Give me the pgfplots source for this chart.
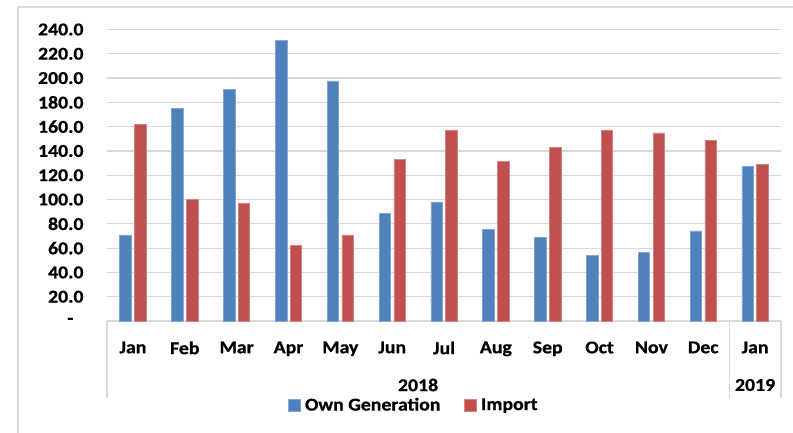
\documentclass[border=0pt]{standalone}
\usepackage{fontspec}
\setmainfont{Carlito}[FakeStretch=1.1, BoldFeatures={FakeBold=0.8}]
\usepackage{pgfplots}
\pgfplotsset{compat=1.18}
\definecolor{ownblue}{HTML}{4F81BD}
\definecolor{impred}{HTML}{C0504D}
\definecolor{gridgray}{HTML}{D9D9D9}
\newcommand{\tfont}{\bfseries\fontsize{18bp}{21bp}\selectfont}
\newcommand{\xfont}{\bfseries\fontsize{18bp}{21bp}\selectfont}
\begin{document}
\begin{tikzpicture}[x=1bp,y=1bp]
\useasboundingbox (0,0) rectangle (793,433);
\draw[gridgray, line width=1.2bp] (18,0) -- (18,426) -- (800,426);
\begin{axis}[
  at={(107bp,112bp)}, anchor=south west,
  width=674bp, height=291.5bp, scale only axis,
  ybar=3.3bp, bar width=11.5bp,
  xmin=-0.5, xmax=12.5, ymin=0, ymax=240,
  xtick={0,...,12},
  xticklabels={Jan,Feb,Mar,Apr,May,Jun,Jul,Aug,Sep,Oct,Nov,Dec,Jan},
  ytick={0,20,...,240},
  yticklabels={{-\kern10bp\relax},20.0,40.0,60.0,80.0,100.0,120.0,140.0,160.0,180.0,200.0,220.0,240.0},
  major tick length=0pt,
  ymajorgrids, grid style={draw=gridgray, line width=1.2bp},
  axis x line*=bottom, axis y line*=left,
  x axis line style={draw=gridgray, line width=1.2bp, -},
  y axis line style={draw=none},
  yticklabel style={font=\tfont, anchor=east, xshift=-20bp},
  xticklabel style={font=\xfont, anchor=north, yshift=-17bp},
  legend style={at={(0.4555,-0.288)}, anchor=center, draw=none, fill=none,
    legend columns=2, font=\xfont,
    /tikz/every even column/.append style={column sep=22bp}},
  legend image code/.code={\fill[#1] (0bp,-6bp) rectangle (12bp,6bp);},
  clip=false,
]
\addplot[fill=ownblue, draw=ownblue!70!white, line width=0.6bp] coordinates {
(0,70.8) (1,175.1) (2,190.7) (3,231.3) (4,197.6) (5,88.7) (6,98.0) (7,75.5) (8,68.6) (9,54.3) (10,56.8) (11,74.1) (12,127.0)};
\addplot[fill=impred, draw=impred!70!white, line width=0.6bp] coordinates {
(0,162.0) (1,100.4) (2,97.1) (3,62.0) (4,70.8) (5,133.0) (6,157.3) (7,131.5) (8,142.7) (9,157.3) (10,154.8) (11,149.0) (12,129.0)};
\legend{\hspace{2bp}Own Generation, \hspace{2bp}Import}
\draw[gridgray, line width=1.2bp] (axis cs:-0.5,0) -- ([yshift=-77bp]axis cs:-0.5,0);
\draw[gridgray, line width=1.2bp] (axis cs:11.5,0) -- ([yshift=-77bp]axis cs:11.5,0);
\draw[gridgray, line width=1.2bp] (axis cs:12.5,0) -- ([yshift=-77bp]axis cs:12.5,0);
\node[font=\xfont] at ([yshift=-64bp]axis cs:5.5,0) {2018};
\node[font=\xfont] at ([yshift=-64bp]axis cs:12,0) {2019};
\end{axis}
\end{tikzpicture}
\end{document}
